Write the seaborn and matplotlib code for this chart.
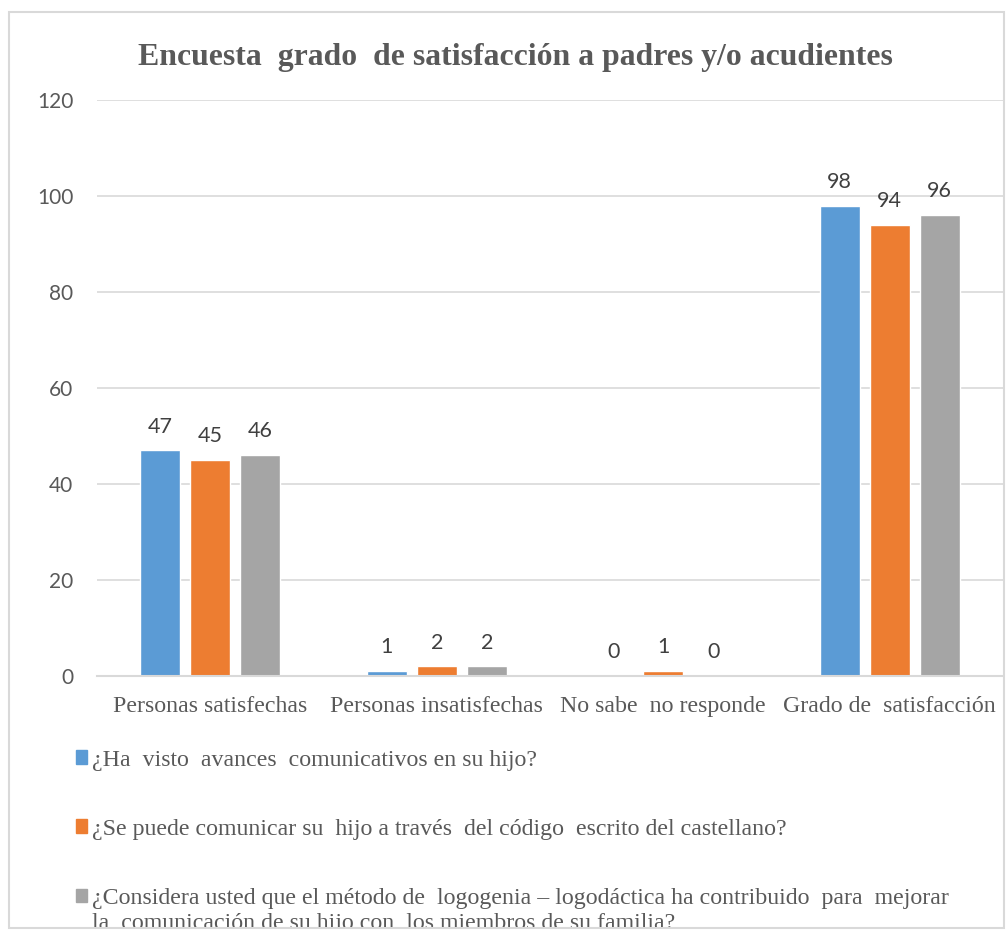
import seaborn as sns
import matplotlib.pyplot as plt
import matplotlib.patches as mpatches
from matplotlib.transforms import Bbox, TransformedBbox
import pandas as pd

# Data
categorias = ["Personas satisfechas", "Personas insatisfechas",
              "No sabe  no responde", "Grado de  satisfacción"]
preguntas = [
    "¿Ha  visto  avances  comunicativos en su hijo?",
    "¿Se puede comunicar su  hijo a través  del código  escrito del castellano?",
    "¿Considera usted que el método de  logogenia – logodáctica ha contribuido  para  mejorar",
]
continuacion = "la  comunicación de su hijo con  los miembros de su familia?"
valores_p1 = [47, 1, 0, 98]
valores_p2 = [45, 2, 1, 94]
valores_p3 = [46, 2, 0, 96]
colores = ["#5B9BD5", "#ED7D31", "#A5A5A5"]
yticks = [0, 20, 40, 60, 80, 100, 120]

df = pd.DataFrame({
    "categoria": categorias * 3,
    "valor": valores_p1 + valores_p2 + valores_p3,
    "pregunta": [p for p in preguntas for _ in categorias],
})

sns.set_style("white")
serif = ["Liberation Serif", "DejaVu Serif"]
sans = ["Lato", "DejaVu Sans"]
texto = "#595959"

W, H = 1006, 930
fig = plt.figure(figsize=(W / 100, H / 100), dpi=100)
ax = fig.add_axes([97 / W, 1 - 676 / H, 906 / W, 576 / H])

sns.barplot(data=df, x="categoria", y="valor", hue="pregunta",
            palette=colores, width=0.662, gap=0.2, saturation=1,
            order=categorias, hue_order=preguntas, ax=ax)
if ax.get_legend():
    ax.get_legend().remove()

for cont in ax.containers:
    ax.bar_label(cont, padding=10, fontsize=15.5, color="#404040", family=sans)

ax.set_ylim(0, 120)
ax.set_yticks(yticks)
ax.set_xlabel("")
ax.set_ylabel("")
ax.grid(axis="y", color="#D9D9D9", linewidth=1.2)
ax.set_axisbelow(True)
for s in ["top", "right", "left"]:
    ax.spines[s].set_visible(False)
ax.spines["bottom"].set_color("#D9D9D9")
ax.spines["bottom"].set_linewidth(1.5)
ax.tick_params(axis="both", length=0)
ax.tick_params(axis="y", pad=17, labelsize=15, labelcolor=texto)
ax.tick_params(axis="x", pad=14.5, labelsize=17.2, labelcolor=texto)
for lab in ax.get_yticklabels():
    lab.set_family(sans)
for lab in ax.get_xticklabels():
    lab.set_family(serif)

fig.text(515 / W, 1 - 57 / H, "Encuesta  grado  de satisfacción a padres y/o acudientes",
         ha="center", va="center", fontsize=22.9, fontweight="bold", color=texto, family=serif)

handles = [mpatches.Patch(color=c) for c in colores]
leg = fig.legend(handles, preguntas, loc="upper left",
                 bbox_to_anchor=(54 / W, 1 - 728 / H), frameon=False,
                 handlelength=0.5, handleheight=0.5, handletextpad=0.17,
                 labelspacing=2.02, prop={"family": serif, "size": 17.2})
for t in leg.get_texts():
    t.set_color(texto)

# second line of the third legend entry, under its first line and cut by the frame
fig.canvas.draw()
bb = leg.get_texts()[2].get_window_extent()
cont_txt = fig.text(bb.x0 / W, (bb.y0 - 25) / H, continuacion, ha="left", va="bottom",
                    fontsize=17.2, color=texto, family=serif)
cont_txt.set_clip_box(TransformedBbox(Bbox([[0, 3 / H], [1, 1]]), fig.transFigure))
cont_txt.set_clip_on(True)

fig.patches.append(mpatches.Rectangle((9 / W, 1 - 928 / H), 995 / W, 916 / H,
                                      transform=fig.transFigure, fill=False,
                                      edgecolor="#D9D9D9", linewidth=1.5))

fig.savefig("out.png", dpi=100)
plt.close()
